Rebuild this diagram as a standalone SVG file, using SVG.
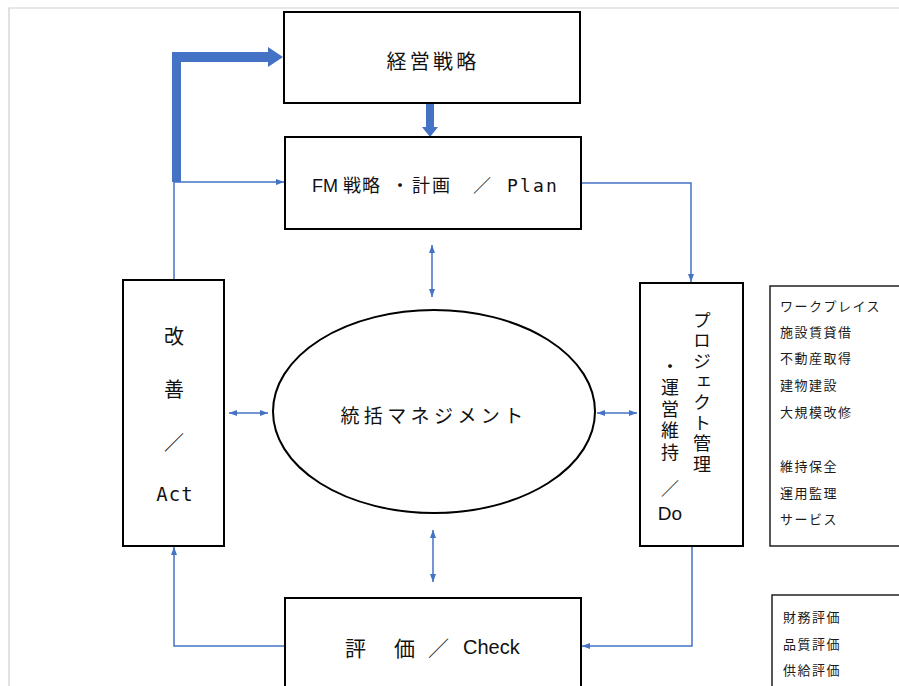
<svg xmlns="http://www.w3.org/2000/svg" width="899" height="686" viewBox="0 0 899 686">
<defs>
<style>
.box{fill:#fff;stroke:#000;stroke-width:2}
.lst{fill:#fff;stroke:#111;stroke-width:1.4}
.con{fill:none;stroke:#4472C4;stroke-width:1.5}
.thick{fill:#4472C4;stroke:none}
.jp{font-family:"Noto Sans CJK JP","Liberation Sans",sans-serif;fill:#111}
.vt{font-family:"Noto Sans CJK JP",sans-serif;fill:#111;writing-mode:vertical-rl;font-size:18px}
.mono{font-family:"DejaVu Sans Mono","Liberation Mono",monospace;fill:#111}
.li{font-family:"Noto Sans CJK JP",sans-serif;font-size:13px;letter-spacing:1.5px;fill:#1a1a1a}
</style>
<marker id="ah" viewBox="0 0 8 6" refX="8" refY="3" markerWidth="8" markerHeight="6" markerUnits="userSpaceOnUse" orient="auto-start-reverse">
<path d="M0,0 L8,3 L0,6 z" fill="#4472C4"/>
</marker>
</defs>
<rect width="899" height="686" fill="#fff"/>
<path d="M9,686 V8 H899" fill="none" stroke="#cfcfcf" stroke-width="1.2"/>

<g id="connectors">
<path class="con" d="M174,280 V182 H284" marker-end="url(#ah)"/>
<path class="thick" d="M172,182 V52 H268 V47 L283,57 L268,67 V62 H181 V182 Z"/>
<path class="thick" d="M426,103 H434 V127 H438 L430,137 L422,127 H426 Z"/>
<path class="con" d="M581,183 H691 V282" marker-end="url(#ah)"/>
<path class="con" d="M692,546 V646 H582" marker-end="url(#ah)"/>
<path class="con" d="M285,646 H174 V547" marker-end="url(#ah)"/>
<path class="con" d="M432,245 V297" marker-start="url(#ah)" marker-end="url(#ah)"/>
<path class="con" d="M433,530 V582" marker-start="url(#ah)" marker-end="url(#ah)"/>
<path class="con" d="M229,413 H268" marker-start="url(#ah)" marker-end="url(#ah)"/>
<path class="con" d="M597,413 H637" marker-start="url(#ah)" marker-end="url(#ah)"/>
</g>

<g id="keiei">
<rect class="box" x="284" y="12" width="296" height="91"/>
<text class="jp" x="433" y="60" font-size="20" letter-spacing="3.3" text-anchor="middle" dominant-baseline="central">経営戦略</text>
</g>

<g id="plan">
<rect class="box" x="285" y="137" width="296" height="92"/>
<text class="jp" y="192" font-size="18"><tspan x="312" font-family="Liberation Sans">FM</tspan><tspan x="343" letter-spacing="1">戦略</tspan><tspan x="391">・</tspan><tspan x="412" letter-spacing="2">計画</tspan><tspan x="473">／</tspan><tspan x="507" font-family="DejaVu Sans Mono" letter-spacing="2.2">Plan</tspan></text>
</g>

<g id="act">
<rect class="box" x="123" y="280" width="101" height="266"/>
<text class="jp" x="174" y="335" font-size="20" text-anchor="middle" dominant-baseline="central">改</text>
<text class="jp" x="174" y="388" font-size="20" text-anchor="middle" dominant-baseline="central">善</text>
<text class="jp" x="174" y="441" font-size="20" text-anchor="middle" dominant-baseline="central">／</text>
<text class="mono" x="175" y="494" font-size="19" letter-spacing="1" text-anchor="middle" dominant-baseline="central">Act</text>
</g>

<g id="togatsu">
<ellipse cx="434" cy="411.5" rx="161" ry="101.5" fill="#fff" stroke="#000" stroke-width="2"/>
<text class="jp" x="434" y="414" font-size="19" letter-spacing="4.4" text-anchor="middle" dominant-baseline="central">統括マネジメント</text>
</g>

<g id="do">
<rect class="box" x="640" y="283" width="103" height="263"/>
<text class="vt" x="702" y="311" letter-spacing="2.6">プロジェクト管理</text>
<text class="vt" x="670" y="357" letter-spacing="3.5">・運営維持</text>
<text class="jp" x="670" y="487" font-size="18" text-anchor="middle" dominant-baseline="central">／</text>
<text x="670" y="513" font-family="Liberation Sans" font-size="19" fill="#111" text-anchor="middle" dominant-baseline="central">Do</text>
</g>

<g id="list1">
<rect class="lst" x="770" y="286" width="200" height="260"/>
<text class="li" dominant-baseline="central"><tspan x="780" y="305">ワークプレイス</tspan><tspan x="780" y="331">施設賃貸借</tspan><tspan x="780" y="357">不動産取得</tspan><tspan x="780" y="384">建物建設</tspan><tspan x="780" y="411">大規模改修</tspan><tspan x="780" y="465">維持保全</tspan><tspan x="780" y="492">運用監理</tspan><tspan x="780" y="518">サービス</tspan></text>
</g>

<g id="check">
<rect class="box" x="285" y="598" width="296" height="120"/>
<text class="jp" font-size="21" dominant-baseline="central" y="647"><tspan x="345">評</tspan><tspan x="394">価</tspan><tspan x="428">／</tspan></text>
<text x="463" y="647" font-family="Liberation Sans" font-size="20" fill="#111" dominant-baseline="central">Check</text>
</g>

<g id="list2">
<rect class="lst" x="772" y="595" width="200" height="120"/>
<text class="li" dominant-baseline="central"><tspan x="783" y="616">財務評価</tspan><tspan x="783" y="643">品質評価</tspan><tspan x="783" y="669">供給評価</tspan></text>
</g>
</svg>
